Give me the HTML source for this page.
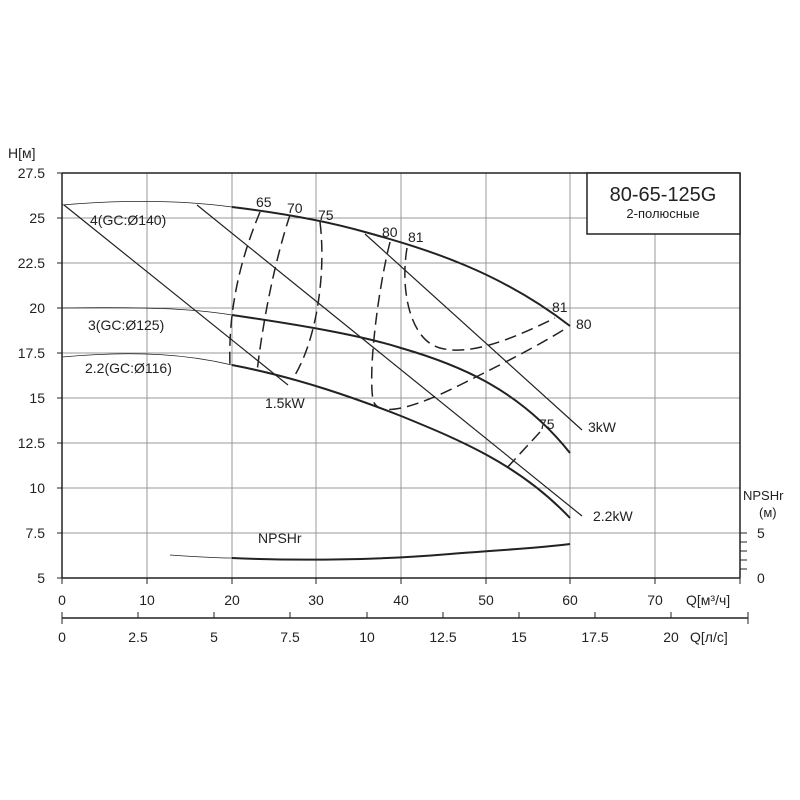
<!DOCTYPE html><html><head><meta charset="utf-8"><style>body{margin:0;background:#fff}svg{display:block}text{font-family:"Liberation Sans",sans-serif;fill:#222}</style></head><body>
<svg width="800" height="800" viewBox="0 0 800 800">
<g stroke="#999" stroke-width="1">
<line x1="147" y1="173" x2="147" y2="578"/><line x1="232" y1="173" x2="232" y2="578"/><line x1="316" y1="173" x2="316" y2="578"/><line x1="401" y1="173" x2="401" y2="578"/><line x1="486" y1="173" x2="486" y2="578"/><line x1="570" y1="173" x2="570" y2="578"/><line x1="655" y1="173" x2="655" y2="578"/>
<line x1="62" y1="218" x2="740" y2="218"/><line x1="62" y1="263" x2="740" y2="263"/><line x1="62" y1="308" x2="740" y2="308"/><line x1="62" y1="353" x2="740" y2="353"/><line x1="62" y1="398" x2="740" y2="398"/><line x1="62" y1="443" x2="740" y2="443"/><line x1="62" y1="488" x2="740" y2="488"/><line x1="62" y1="533" x2="740" y2="533"/>
</g>
<g stroke="#222" stroke-width="1.5" fill="none">
<line x1="62" y1="173" x2="740" y2="173"/><line x1="62" y1="173" x2="62" y2="578"/><line x1="740" y1="173" x2="740" y2="578"/><line x1="62" y1="578" x2="740" y2="578"/>
<line x1="62" y1="618" x2="748" y2="618"/>
</g>
<g stroke="#222" stroke-width="1">
<path d="M57 173H62M57 218H62M57 263H62M57 308H62M57 353H62M57 398H62M57 443H62M57 488H62M57 533H62M57 578H62"/>
<path d="M62 578V584M147 578V584M232 578V584M316 578V584M401 578V584M486 578V584M570 578V584M655 578V584M740 578V584"/>
<path d="M62 612V624M138 612V618M214 612V618M290 612V618M367 612V618M443 612V618M519 612V618M595 612V618M671 612V618M748 612V624"/>
<path d="M740 533H747M740 542H747M740 551H747M740 560H747M740 569H747"/>
</g>
<g font-size="14" text-anchor="end">
<text x="45" y="178">27.5</text><text x="45" y="223">25</text><text x="45" y="268">22.5</text><text x="45" y="313">20</text><text x="45" y="358">17.5</text><text x="45" y="403">15</text><text x="45" y="448">12.5</text><text x="45" y="493">10</text><text x="45" y="538">7.5</text><text x="45" y="583">5</text>
</g>
<text x="8" y="158" font-size="14">H[м]</text>
<g font-size="14" text-anchor="middle">
<text x="62" y="605">0</text><text x="147" y="605">10</text><text x="232" y="605">20</text><text x="316" y="605">30</text><text x="401" y="605">40</text><text x="486" y="605">50</text><text x="570" y="605">60</text><text x="655" y="605">70</text>
<text x="62" y="642">0</text><text x="138" y="642">2.5</text><text x="214" y="642">5</text><text x="290" y="642">7.5</text><text x="367" y="642">10</text><text x="443" y="642">12.5</text><text x="519" y="642">15</text><text x="595" y="642">17.5</text><text x="671" y="642">20</text>
</g>
<text x="686" y="605" font-size="14">Q[м³/ч]</text>
<text x="690" y="642" font-size="14">Q[л/с]</text>
<text x="757" y="538" font-size="14">5</text><text x="757" y="583" font-size="14">0</text>
<text x="743" y="500" font-size="13">NPSHr</text><text x="759" y="517" font-size="13">(м)</text>
<rect x="587" y="173" width="153" height="61" fill="#fff" stroke="#222" stroke-width="1.5"/>
<text x="663" y="201" font-size="20" text-anchor="middle">80-65-125G</text>
<text x="663" y="218" font-size="13" text-anchor="middle">2-полюсные</text>
<g fill="none" stroke="#222">
<path d="M62 205 C120 200 180 200 232 207" stroke-width="0.8"/>
<path d="M232 207 C290 214 330 222 365 232 C430 250 500 272 570 326" stroke-width="2"/>
<path d="M62 308 C140 307 190 308 232 315" stroke-width="0.8"/>
<path d="M232 315 C300 325 360 335 401 348 C460 365 520 390 570 453" stroke-width="2"/>
<path d="M62 357 C140 350 190 355 232 365" stroke-width="0.8"/>
<path d="M232 365 C300 378 360 400 401 416 C460 440 520 465 570 518" stroke-width="2"/>
<path d="M170 555 C200 557 215 558 232 558" stroke-width="0.8"/>
<path d="M232 558 C300 561 380 560 450 554 C500 550 540 548 570 544" stroke-width="2"/>
<line x1="64" y1="205" x2="288" y2="385" stroke-width="1.2"/>
<line x1="197" y1="205" x2="582" y2="516" stroke-width="1.2"/>
<line x1="365" y1="234" x2="582" y2="430" stroke-width="1.2"/>
<g stroke-width="1.5" stroke-dasharray="12,6">
<path d="M260 212 C240 260 228 310 230 367"/>
<path d="M290 215 C275 260 263 320 257 372"/>
<path d="M320 222 C326 270 318 340 292 380"/>
<path d="M390 242 C378 290 368 370 373 400 C378 420 420 405 460 385 C500 365 540 345 568 327"/>
<path d="M407 248 C400 290 410 340 440 348 C470 356 510 340 555 318"/>
<path d="M540 432 L505 470"/>
</g>
</g>
<g font-size="14">
<text x="90" y="225">4(GC:Ø140)</text>
<text x="88" y="330">3(GC:Ø125)</text>
<text x="85" y="373">2.2(GC:Ø116)</text>
<text x="265" y="408">1.5kW</text>
<text x="588" y="432">3kW</text>
<text x="593" y="521">2.2kW</text>
<text x="258" y="543">NPSHr</text>
<text x="256" y="207">65</text><text x="287" y="213">70</text><text x="318" y="220">75</text><text x="382" y="237">80</text><text x="408" y="242">81</text>
<text x="552" y="312">81</text><text x="576" y="329">80</text><text x="539" y="429">75</text>
</g>
</svg></body></html>
